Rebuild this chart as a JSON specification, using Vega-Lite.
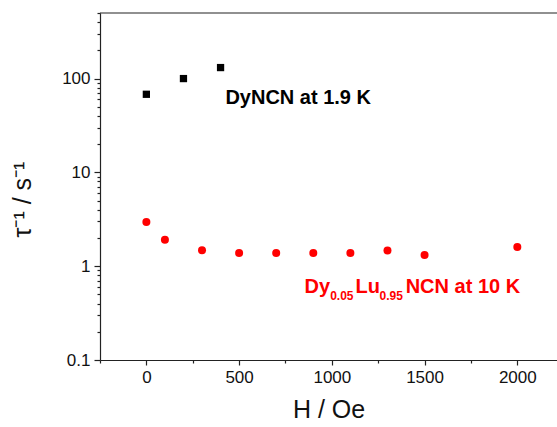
{
  "$schema": "https://vega.github.io/schema/vega-lite/v6.json",
  "width": 457,
  "height": 347,
  "autosize": "none",
  "padding": {"left": 100, "top": 13, "right": 0, "bottom": 67},
  "background": "white",
  "view": {"stroke": null, "strokeWidth": 0, "strokeOpacity": 0},
  "config": {
    "view": {"stroke": null, "strokeWidth": 0, "strokeOpacity": 0},
    "font": "Liberation Sans",
    "axis": {"domainColor": "#222", "tickColor": "#222", "domainWidth": 1.2, "tickWidth": 1.2, "grid": false, "labelColor": "#111", "titleColor": "#111", "labelFont": "Liberation Sans", "titleFont": "Liberation Sans", "titleFontWeight": "normal", "labelOverlap": false}
  },
  "datasets": {
    "dyncn": [
      {"H": 0, "rate": 68},
      {"H": 200, "rate": 100},
      {"H": 400, "rate": 131}
    ],
    "dilute": [
      {"H": 0, "rate": 2.95},
      {"H": 100, "rate": 1.91},
      {"H": 300, "rate": 1.48},
      {"H": 500, "rate": 1.38},
      {"H": 700, "rate": 1.38},
      {"H": 900, "rate": 1.38},
      {"H": 1100, "rate": 1.38},
      {"H": 1300, "rate": 1.47},
      {"H": 1500, "rate": 1.32},
      {"H": 2000, "rate": 1.6}
    ],
    "labelBlack": [{"H": 426, "rate": 53, "text": "DyNCN at 1.9 K"}],
    "labelRedMain": [
      {"H": 853, "rate": 0.522, "text": "Dy"},
      {"H": 1128, "rate": 0.522, "text": "Lu"},
      {"H": 1398, "rate": 0.522, "text": "NCN at 10 K"}
    ],
    "labelRedSub": [
      {"H": 991, "rate": 0.436, "text": "0.05"},
      {"H": 1257, "rate": 0.436, "text": "0.95"}
    ],
    "frame": [{"rate": 500}]
  },
  "layer": [
    {
      "data": {"name": "dilute"},
      "mark": {"type": "point", "shape": "circle", "filled": true, "color": "#ff0000", "size": 64, "opacity": 1},
      "encoding": {
        "x": {"field": "H", "type": "quantitative",
              "scale": {"domain": [-250, 2214], "nice": false, "zero": false},
              "axis": {"orient": "bottom", "values": [-250, 0, 250, 500, 750, 1000, 1250, 1500, 1750, 2000], "format": "d",
                       "labelExpr": "datum.value % 500 == 0 ? datum.label : ''",
                       "tickSize": {"condition": {"test": "datum.value % 500 == 0", "value": 5}, "value": 3},
                       "labelFontSize": 17, "labelPadding": 4, "title": "H / Oe", "titleFontSize": 25, "titlePadding": 12}},
        "y": {"field": "rate", "type": "quantitative",
              "scale": {"type": "log", "domain": [0.1, 500], "nice": false},
              "axis": {"orient": "left", "values": [0.1, 0.2, 0.3, 0.4, 0.5, 0.6, 0.7, 0.8, 0.9, 1, 2, 3, 4, 5, 6, 7, 8, 9, 10, 20, 30, 40, 50, 60, 70, 80, 90, 100, 200, 300, 400, 500],
                       "format": "~g",
                       "labelExpr": "(datum.value == 0.1 || datum.value == 1 || datum.value == 10 || datum.value == 100) ? datum.label : ''",
                       "tickSize": {"condition": {"test": "datum.value == 0.1 || datum.value == 1 || datum.value == 10 || datum.value == 100", "value": 6}, "value": 3},
                       "labelFontSize": 17, "labelPadding": 4, "title": "τ⁻¹ / s⁻¹", "titleFontSize": 25, "titlePadding": 26, "titleY": 186}}
      }
    },
    {
      "data": {"name": "dyncn"},
      "mark": {"type": "point", "shape": "square", "filled": true, "color": "#000000", "size": 53, "opacity": 1},
      "encoding": {
        "x": {"field": "H", "type": "quantitative"},
        "y": {"field": "rate", "type": "quantitative"}
      }
    },
    {
      "data": {"name": "frame"},
      "mark": {"type": "rule", "color": "#222", "strokeWidth": 1.2},
      "encoding": {"y": {"field": "rate", "type": "quantitative"}}
    },
    {
      "data": {"name": "labelBlack"},
      "mark": {"type": "text", "align": "left", "baseline": "alphabetic", "fontSize": 20, "fontWeight": "bold", "color": "#000000"},
      "encoding": {
        "x": {"field": "H", "type": "quantitative"},
        "y": {"field": "rate", "type": "quantitative"},
        "text": {"field": "text"}
      }
    },
    {
      "data": {"name": "labelRedMain"},
      "mark": {"type": "text", "align": "left", "baseline": "alphabetic", "fontSize": 20, "fontWeight": "bold", "color": "#ff0000"},
      "encoding": {
        "x": {"field": "H", "type": "quantitative"},
        "y": {"field": "rate", "type": "quantitative"},
        "text": {"field": "text"}
      }
    },
    {
      "data": {"name": "labelRedSub"},
      "mark": {"type": "text", "align": "left", "baseline": "alphabetic", "fontSize": 12, "fontWeight": "bold", "color": "#ff0000"},
      "encoding": {
        "x": {"field": "H", "type": "quantitative"},
        "y": {"field": "rate", "type": "quantitative"},
        "text": {"field": "text"}
      }
    }
  ]
}
